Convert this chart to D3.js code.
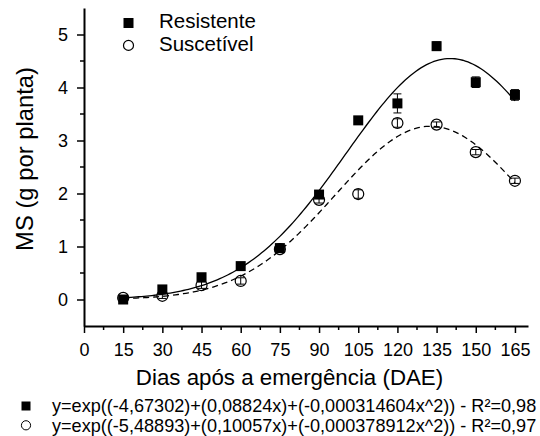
<!DOCTYPE html>
<html>
<head>
<meta charset="utf-8">
<script src="https://cdn.jsdelivr.net/npm/d3@7"></script>
<style>
  body { margin: 0; background: #fff; }
  text { font-family: Arial, "Liberation Sans", sans-serif; fill: #000; }
</style>
</head>
<body>
<div class="chart"></div>
<script>
// data
var dae = [15, 30, 45, 60, 75, 90, 105, 120, 135, 150, 165];
var resistente = [0.00, 0.19, 0.42, 0.63, 0.97, 1.98, 3.38, 3.70, 4.78, 4.10, 3.86];
var resistente_err = [0.02, 0.03, 0.05, 0.04, 0.05, 0.05, 0.05, 0.18, 0.08, 0.1, 0.1];
var suscetivel = [0.03, 0.07, 0.27, 0.35, 0.95, 1.88, 1.99, 3.33, 3.30, 2.78, 2.24];
var suscetivel_err = [0.03, 0.05, 0.06, 0.06, 0.06, 0.06, 0.08, 0.08, 0.05, 0.05, 0.05];
// fitted coefficients y = exp(a + b x + c x^2)
var coef_resistente = [-4.67302, 0.08824, -0.000314604];
var coef_suscetivel = [-5.48893, 0.10057, -0.000378912];
var x_ticks = [0, 15, 30, 45, 60, 75, 90, 105, 120, 135, 150, 165];
var y_ticks = [0, 1, 2, 3, 4, 5];
var series_names = ["Resistente", "Suscetível"];
var eq_labels = [
  "y=exp((-4,67302)+(0,08824x)+(-0,000314604x^2)) - R²=0,98",
  "y=exp((-5,48893)+(0,10057x)+(-0,000378912x^2)) - R²=0,97"
];

var width = 540, height = 436;
var margin_px = { left: 84, top: 8, right: 12, bottom: 110 };
var inner_width = width - margin_px.left - margin_px.right;
var inner_height = height - margin_px.top - margin_px.bottom;

var svg = d3.select(".chart").append("svg")
  .attr("width", width)
  .attr("height", height);

var g = svg.append("g")
  .attr("transform", "translate(" + margin_px.left + "," + margin_px.top + ")");

var x_scale = d3.scaleLinear().domain([0, 170]).range([0, inner_width]);
var y_scale = d3.scaleLinear().domain([-0.5, 5.5]).range([inner_height, 0]);

// minor ticks
var x_minor = d3.range(7.5, 170, 15);
var y_minor = d3.range(0.5, 5, 1);

g.append("g").selectAll("line").data(x_minor).enter().append("line")
  .attr("x1", d => x_scale(d)).attr("x2", d => x_scale(d))
  .attr("y1", inner_height).attr("y2", inner_height + 4)
  .attr("stroke", "#000").attr("stroke-width", 1.5);
g.append("g").selectAll("line").data(y_minor).enter().append("line")
  .attr("y1", d => y_scale(d)).attr("y2", d => y_scale(d))
  .attr("x1", 0).attr("x2", -4)
  .attr("stroke", "#000").attr("stroke-width", 1.5);

var x_axis = g.append("g")
  .attr("transform", "translate(0," + inner_height + ")")
  .call(d3.axisBottom(x_scale).tickValues(x_ticks).tickSize(7).tickPadding(10).tickSizeOuter(0));
var y_axis = g.append("g")
  .call(d3.axisLeft(y_scale).tickValues(y_ticks).tickFormat(d3.format("d"))
    .tickSize(7).tickPadding(9).tickSizeOuter(0));

[x_axis, y_axis].forEach(function (ax) {
  ax.select(".domain").attr("stroke-width", 2);
  ax.selectAll(".tick line").attr("stroke-width", 1.5);
  ax.selectAll("text").attr("font-size", 18).attr("font-family", "Arial, 'Liberation Sans', sans-serif");
});

// fitted curves
var fit = function (c) {
  return d3.range(15, 165.01, 1).map(x => [x, Math.exp(c[0] + c[1] * x + c[2] * x * x)]);
};
var line = d3.line().x(d => x_scale(d[0])).y(d => y_scale(d[1]));

g.append("path").datum(fit(coef_resistente))
  .attr("d", line).attr("fill", "none").attr("stroke", "#000").attr("stroke-width", 1.3);
g.append("path").datum(fit(coef_suscetivel))
  .attr("d", line).attr("fill", "none").attr("stroke", "#000").attr("stroke-width", 1.3)
  .attr("stroke-dasharray", "6,4");

// error bars
var draw_err = function (vals, errs) {
  var eg = g.append("g");
  dae.forEach(function (x, i) {
    var cx = x_scale(x), y0 = y_scale(vals[i] - errs[i]), y1 = y_scale(vals[i] + errs[i]);
    eg.append("line").attr("x1", cx).attr("x2", cx).attr("y1", y0).attr("y2", y1)
      .attr("stroke", "#000").attr("stroke-width", 1);
    [y0, y1].forEach(function (yy) {
      eg.append("line").attr("x1", cx - 4).attr("x2", cx + 4).attr("y1", yy).attr("y2", yy)
        .attr("stroke", "#000").attr("stroke-width", 1);
    });
  });
};

// suscetivel circles
draw_err(suscetivel, suscetivel_err);
g.append("g").selectAll("circle").data(dae).enter().append("circle")
  .attr("cx", d => x_scale(d))
  .attr("cy", (d, i) => y_scale(suscetivel[i]))
  .attr("r", 5.5)
  .attr("fill", "none").attr("stroke", "#000").attr("stroke-width", 1.2);

// resistente squares
draw_err(resistente, resistente_err);
g.append("g").selectAll("rect").data(dae).enter().append("rect")
  .attr("x", d => x_scale(d) - 5)
  .attr("y", (d, i) => y_scale(resistente[i]) - 5)
  .attr("width", 10).attr("height", 10)
  .attr("fill", "#000");

// axis titles
svg.append("text")
  .attr("x", 289.5).attr("y", 385)
  .attr("text-anchor", "middle").attr("font-size", 22.3)
  .text("Dias após a emergência (DAE)");
svg.append("text")
  .attr("transform", "translate(33,159) rotate(-90)")
  .attr("text-anchor", "middle").attr("font-size", 23.8)
  .text("MS (g por planta)");

// legend inside plot
var legend = svg.append("g").attr("transform", "translate(128.5,23)");
series_names.forEach(function (name, i) {
  var row = legend.append("g").attr("transform", "translate(0," + (i * 22.4) + ")");
  if (i === 0) {
    row.append("rect").attr("x", -5).attr("y", -5).attr("width", 10).attr("height", 10).attr("fill", "#000");
  } else {
    row.append("circle").attr("r", 5).attr("fill", "none").attr("stroke", "#000").attr("stroke-width", 1.2);
  }
  row.append("text").attr("x", 30.5).attr("y", 5.3).attr("font-size", 20.5).text(name);
});

// equations below
var eq = svg.append("g").attr("transform", "translate(26,406)");
eq_labels.forEach(function (lab, i) {
  var row = eq.append("g").attr("transform", "translate(0," + (i * 19.3) + ")");
  if (i === 0) {
    row.append("rect").attr("x", -4.5).attr("y", -4.5).attr("width", 9).attr("height", 9).attr("fill", "#000");
  } else {
    row.append("circle").attr("r", 4.6).attr("fill", "none").attr("stroke", "#000").attr("stroke-width", 1);
  }
  row.append("text").attr("x", 26).attr("y", 6.2).attr("font-size", 18.1).text(lab);
});
</script>
</body>
</html>
